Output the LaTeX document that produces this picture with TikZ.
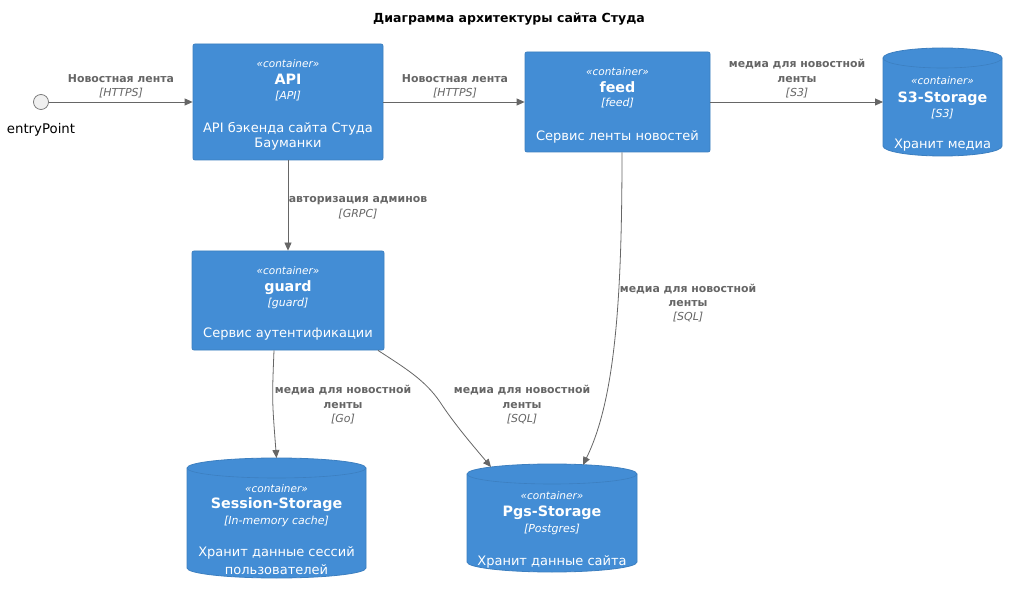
\documentclass[tikz,border=0pt]{standalone}
\usepackage{fontspec}
\setmainfont{DejaVu Sans}
\usetikzlibrary{arrows.meta,calc}
\definecolor{boxblue}{HTML}{438DD5}
\definecolor{boxedge}{HTML}{3C7FC0}
\definecolor{edgegray}{HTML}{666666}
\newcommand\dbcyl[5]{%
  \fill[boxblue,draw=boxedge,line width=0.8pt]
    ({#1-#3/2},{#2-#4/2+10}) -- ({#1-#3/2},{#2+#4/2-10})
    arc[start angle=180,end angle=0,x radius={#3/2},y radius=10]
    -- ({#1+#3/2},{#2-#4/2+10})
    arc[start angle=0,end angle=-180,x radius={#3/2},y radius=10] -- cycle;
  \draw[boxedge,line width=0.6pt] ({#1-#3/2},{#2-#4/2+10})
    arc[start angle=180,end angle=0,x radius={#3/2},y radius=10];
  \node[anchorbox,minimum width=#3,minimum height=#4] (#5) at (#1,#2) {};
}
\begin{document}
\begin{tikzpicture}[x=1pt,y=-1pt,
  box/.style={rectangle,rounded corners=2pt,fill=boxblue,draw=boxedge,line width=0.8pt,inner sep=0},
  anchorbox/.style={rectangle,inner sep=0,outer sep=0},
  txt/.style={inner sep=0,yshift=-1.5pt},
  stereo/.style={txt,font=\fontsize{10.5}{12}\selectfont\itshape,text=white},
  cname/.style={txt,font=\fontsize{14.3}{16}\selectfont\bfseries,text=white},
  tech/.style={txt,font=\fontsize{11}{12}\selectfont\itshape,text=white},
  desc/.style={txt,font=\fontsize{13}{15}\selectfont,text=white},
  elb/.style={txt,font=\fontsize{10.9}{12}\selectfont\bfseries,text=edgegray},
  eli/.style={txt,font=\fontsize{11}{12}\selectfont\itshape,text=edgegray},
  conn/.style={draw=edgegray,line width=0.8pt,-{Triangle[length=8pt,width=7pt]}}
]
\useasboundingbox (0,0) rectangle (1018,596);
\fill[white] (0,0) rectangle (1018,596);

% title
\node[txt,font=\fontsize{12.5}{14}\selectfont\bfseries] (title) at (509,18) {Диаграмма архитектуры сайта Студа};

% entry point
\node[circle,minimum size=15,inner sep=0,fill=black!6,draw=black!55,line width=0.7pt] (entry) at (41,102) {};
\node[txt,font=\fontsize{13.3}{15}\selectfont] (entryL) at (41,128) {entryPoint};

% API
\node[box,minimum width=190,minimum height=116] (api) at (288,102) {};
\node[stereo] (apiS) at (288,62) {«container»};
\node[cname] (apiN) at (288,78) {API};
\node[tech] (apiT) at (288,95) {[API]};
\node[desc] (apiD1) at (288,127) {API бэкенда сайта Студа};
\node[desc] (apiD2) at (288,143) {Бауманки};

% feed
\node[box,minimum width=185,minimum height=100] (feed) at (617.5,102) {};
\node[stereo] (feedS) at (617.5,70) {«container»};
\node[cname] (feedN) at (617.5,86) {feed};
\node[tech] (feedT) at (617.5,102) {[feed]};
\node[desc] (feedD) at (617.5,135) {Сервис ленты новостей};

% guard
\node[box,minimum width=192,minimum height=99] (guard) at (288,300.5) {};
\node[stereo] (guardS) at (288,269) {«container»};
\node[cname] (guardN) at (288,286) {guard};
\node[tech] (guardT) at (288,302) {[guard]};
\node[desc] (guardD) at (288,333) {Сервис аутентификации};

% S3 storage
\dbcyl{942.5}{102}{119}{108}{s3}
\node[stereo] (s3S) at (942.5,79) {«container»};
\node[cname] (s3N) at (942.5,97) {S3-Storage};
\node[tech] (s3T) at (942.5,113) {[S3]};
\node[desc] (s3D) at (942.5,144) {Хранит медиа};

% Session storage
\dbcyl{276.5}{518}{179}{120}{sess}
\node[stereo] (sessS) at (276.5,487) {«container»};
\node[cname] (sessN) at (276.5,503) {Session-Storage};
\node[tech] (sessT) at (276.5,520) {[In-memory cache]};
\node[desc] (sessD1) at (276.5,551) {Хранит данные сессий};
\node[desc] (sessD2) at (276.5,568) {пользователей};

% Pgs storage
\dbcyl{552}{518}{170}{108}{pgs}
\node[stereo] (pgsS) at (552,494) {«container»};
\node[cname] (pgsN) at (552,511) {Pgs-Storage};
\node[tech] (pgsT) at (552,528) {[Postgres]};
\node[desc] (pgsD) at (552,560) {Хранит данные сайта};

% connectors
\draw[conn] (entry.east) -- (api.west);
\node[elb] (l1a) at (121,77) {Новостная лента};
\node[eli] (l1b) at (121,92) {[HTTPS]};

\draw[conn] (api.east) -- (feed.west);
\node[elb] (l2a) at (455,77) {Новостная лента};
\node[eli] (l2b) at (455,92) {[HTTPS]};

\draw[conn] (feed.east) -- (s3.west);
\node[elb] (l3a) at (797,63) {медиа для новостной};
\node[elb] (l3b) at (797,78) {ленты};
\node[eli] (l3c) at (797,92) {[S3]};

\draw[conn] (api.south) -- (guard.north);
\node[elb] (l4a) at (358,199) {авторизация админов};
\node[eli] (l4b) at (358,213) {[GRPC]};

\draw[conn] ($(guard.south)+(-14,0)$) .. controls (272,400) .. (sess.north);
\node[elb] (l5a) at (343,389) {медиа для новостной};
\node[elb] (l5b) at (343,404) {ленты};
\node[eli] (l5c) at (343,418) {[Go]};

\draw[conn] ($(guard.south)+(90,0)$) .. controls (405,368) and (425,380) .. (440,402)
  .. controls (455,425) and (475,448) .. ($(pgs.north)+(-61,3)$);
\node[elb] (l6a) at (522,389) {медиа для новостной};
\node[elb] (l6b) at (522,404) {ленты};
\node[eli] (l6c) at (522,418) {[SQL]};

\draw[conn] ($(feed.south)+(4.5,0)$) .. controls (622,300) and (615,400) .. ($(pgs.north)+(31,1)$);
\node[elb] (l7a) at (688,288) {медиа для новостной};
\node[elb] (l7b) at (688,302) {ленты};
\node[eli] (l7c) at (688,316) {[SQL]};
\end{tikzpicture}
\end{document}
